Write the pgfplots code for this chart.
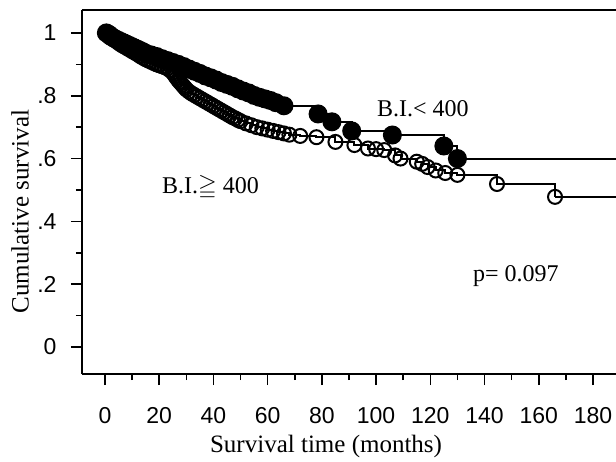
\documentclass[border=0pt]{standalone}
\usepackage{amssymb}
\usepackage{fontspec}
\setmainfont{Liberation Serif}
\newfontfamily\tickfont{Liberation Sans}
\usepackage{pgfplots}
\pgfplotsset{compat=1.18}

% B.I. < 400 (filled circles)
\pgfplotstableread{
t s
0.5 1.000
1.5 0.995
2 0.990
3 0.985
4 0.980
5 0.976
6 0.972
7 0.968
8 0.964
9 0.960
10 0.956
11 0.952
12 0.948
13 0.944
14 0.940
15 0.935
17 0.930
19 0.925
21 0.918
23 0.912
25 0.906
27 0.900
29 0.893
31 0.885
33 0.878
35 0.871
37 0.863
39 0.857
41 0.850
43 0.842
45 0.836
47 0.830
49 0.822
51 0.815
53 0.809
55 0.801
57 0.795
59 0.790
61 0.785
63 0.778
66 0.768
78.6 0.742
83.7 0.717
91 0.688
106 0.675
125 0.640
130 0.600
}\lowbi

% B.I. >= 400 (open circles)
\pgfplotstableread{
t s
0.5 1.000
1.5 0.990
2.5 0.984
3.5 0.978
5 0.968
6 0.962
7 0.957
8 0.952
9 0.947
10 0.942
11 0.937
12 0.932
13 0.926
14 0.921
15 0.916
16 0.912
17 0.908
18 0.904
19 0.900
20 0.897
21 0.894
22 0.891
23 0.887
24 0.881
25 0.874
25.5 0.868
26 0.862
26.5 0.856
27 0.850
27.5 0.845
28 0.840
28.5 0.835
29 0.830
29.5 0.825
30 0.820
31 0.813
32 0.807
33 0.802
34 0.797
35 0.792
36 0.787
37 0.782
38 0.777
39 0.772
40 0.767
41 0.762
42 0.757
43 0.752
44 0.747
45 0.742
46 0.737
47 0.732
48 0.728
49 0.723
50 0.719
52 0.712
54 0.706
56 0.700
58 0.696
60 0.692
62 0.688
64 0.684
66 0.680
68 0.676
72 0.672
78 0.668
85 0.653
92 0.643
97 0.632
100 0.630
103 0.627
107 0.610
109 0.600
115 0.590
117 0.583
119 0.573
122 0.562
125.5 0.554
130 0.548
144.6 0.519
166 0.478
}\highbi

\begin{document}
\begin{tikzpicture}
\begin{axis}[
  scale only axis, width=534pt, height=364pt,
  at={(0,0)}, anchor=south west,
  xmin=-8.5, xmax=188.5, ymin=-0.086, ymax=1.073,
  axis x line*=bottom, axis y line*=left,
  axis line style={-, line width=1.8pt},
  tick align=outside,
  major tick length=11pt, minor tick length=6pt,
  every tick/.style={black, line width=1.6pt},
  xtick={0,20,...,180},
  xticklabels={0,20,40,60,80,100,120,140,160,180},
  minor xtick={10,30,...,170},
  ytick={0,0.2,0.4,0.6,0.8,1},
  yticklabels={0,.2,.4,.6,.8,1},
  minor ytick={0.1,0.3,0.5,0.7,0.9},
  ticklabel style={font=\tickfont\fontsize{23}{23}\selectfont},
  xticklabel style={yshift=-19pt},
  yticklabel style={xshift=-11pt},
  xlabel={Survival time (months)},
  ylabel={Cumulative survival},
  label style={font=\fontsize{25}{28}\selectfont},
  xlabel style={at={(rel axis cs:0.457,-0.217)}, anchor=base},
  ylabel style={at={(rel axis cs:-0.116,0.446)}, anchor=center},
  clip=false,
]
\addplot[black, line width=2pt, const plot mark left,
  mark=o, mark size=7pt, mark options={line width=2pt, fill=none}]
  table[x=t, y=s] {\highbi};
\addplot[black, line width=2pt, mark=none] coordinates {(166,0.478) (188.5,0.478)};
\addplot[black, line width=2pt, const plot mark left,
  mark=*, mark size=8.5pt, mark options={fill=black}]
  table[x=t, y=s] {\lowbi};
\addplot[black, line width=2pt, mark=none] coordinates {(130,0.600) (188.5,0.600)};
\draw[line width=1.8pt] (rel axis cs:0,1) -- (rel axis cs:1,1);
\node[anchor=base west, inner sep=0pt, font=\fontsize{24}{28}\selectfont]
  at (axis cs:100.3,0.733) {B.I.< 400};
\node[anchor=base west, inner sep=0pt, font=\fontsize{24}{28}\selectfont]
  at (axis cs:21,0.49) {B.I.$\geqq$ 400};
\node[anchor=base west, inner sep=0pt, font=\fontsize{24}{28}\selectfont]
  at (axis cs:135.7,0.207) {p= 0.097};
\end{axis}
\pgfresetboundingbox
\path[use as bounding box] (-82pt,-87pt) rectangle (534pt,374pt);
\end{tikzpicture}
\end{document}
